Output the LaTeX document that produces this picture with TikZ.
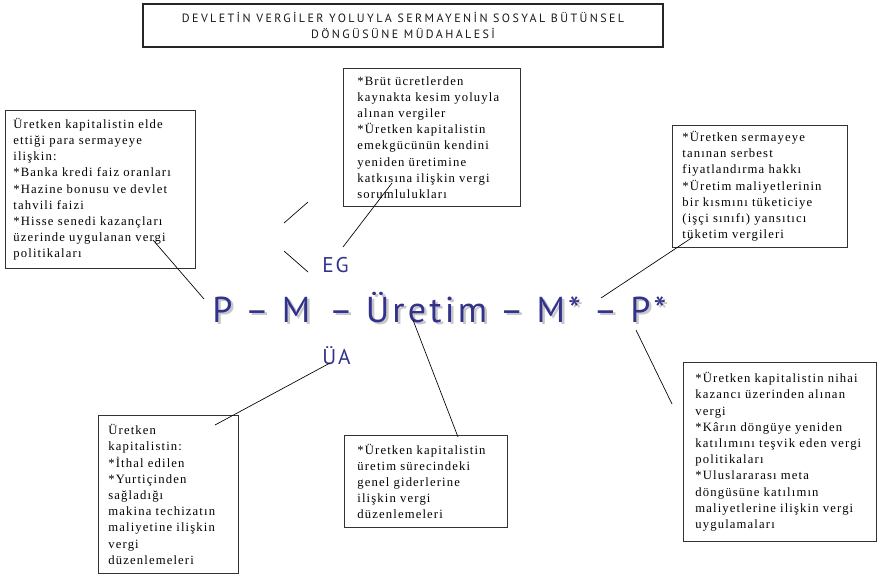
\documentclass[tikz,border=0pt]{standalone}
\usepackage{fontspec}
\newfontfamily\notefont{Liberation Serif}[LetterSpace=9]
\newfontfamily\headfont{PT Sans}[LetterSpace=20]
\newfontfamily\termfont{PT Sans}[LetterSpace=9]
\definecolor{termblue}{RGB}{50,50,140}

\begin{document}
\begin{tikzpicture}[x=0.75pt,y=-0.75pt,
    notebox/.style={draw=black!80, line width=0.6pt, anchor=north west, align=left,
      inner ysep=2pt, font=\notefont\fontsize{9.5}{12.15}\selectfont},
    link/.style={line width=0.5pt},
    bigterm/.style={anchor=base west, inner sep=0pt, font=\termfont\fontsize{27}{30}\selectfont},
    subterm/.style={anchor=base west, inner sep=0pt, text=termblue, font=\termfont\fontsize{16}{18}\selectfont}]
    \useasboundingbox (0,0) rectangle (877,575);

    \node[draw=black!85, line width=0.9pt, minimum width=390pt, minimum height=32.25pt,
      align=center, text=black!90, font=\headfont\fontsize{9}{12}\selectfont] (title) at (403,25.5)
      {DEVLETİN VERGİLER YOLUYLA SERMAYENİN SOSYAL BÜTÜNSEL\\DÖNGÜSÜNE MÜDAHALESİ};

    % the circuit
    \node[bigterm, text=black!22] at (214.5,324.5) {P – M \,– Üretim – M* – P*};
    \node[bigterm, text=termblue] (circuit) at (212,322) {P – M \,– Üretim – M* – P*};
    \node[subterm] (eg) at (322,272) {EG};
    \node[subterm] (ua) at (322,364) {ÜA};

    % notes
    \node[notebox, inner xsep=6pt, text width=130.5pt, minimum height=118.5pt] (capital) at (5,110)
      {Üretken kapitalistin elde\\ettiği para sermayeye\\ilişkin:\\{}*Banka kredi faiz oranları\\{}*Hazine bonusu ve devlet\\tahvili faizi\\{}*Hisse senedi kazançları\\üzerinde uygulanan vergi\\politikaları};
    \node[notebox, inner xsep=10.5pt, text width=111.75pt, minimum height=103.5pt] (wages) at (343,68)
      {*Brüt ücretlerden\\kaynakta kesim yoluyla\\alınan vergiler\\{}*Üretken kapitalistin\\emekgücünün kendini\\yeniden üretimine\\katkısına ilişkin vergi\\sorumlulukları};
    \node[notebox, inner xsep=7.5pt, text width=116.25pt, minimum height=91.5pt] (pricing) at (672,125)
      {*Üretken sermayeye\\tanınan serbest\\fiyatlandırma hakkı\\{}*Üretim maliyetlerinin\\bir kısmını tüketiciye\\(işçi sınıfı) yansıtıcı\\tüketim vergileri};
    \node[notebox, inner xsep=9pt, text width=126.75pt, minimum height=134.25pt] (profit) at (683,362)
      {*Üretken kapitalistin nihai\\kazancı üzerinden alınan\\vergi\\{}*Kârın döngüye yeniden\\katılımını teşvik eden vergi\\politikaları\\{}*Uluslararası meta\\döngüsüne katılımın\\maliyetlerine ilişkin vergi\\uygulamaları};
    \node[notebox, inner xsep=9.75pt, text width=102.75pt, minimum height=69pt] (overhead) at (344,435)
      {*Üretken kapitalistin\\üretim sürecindeki\\genel giderlerine\\ilişkin vergi\\düzenlemeleri};
    \node[notebox, inner xsep=7.5pt, text width=90pt, minimum height=118.5pt] (machinery) at (98,415)
      {Üretken\\kapitalistin:\\{}*İthal edilen\\{}*Yurtiçinden\\sağladığı\\makina techizatın\\maliyetine ilişkin\\vergi\\düzenlemeleri};

    % connector ends
    \coordinate (capital-in) at (153,240);   \coordinate (capital-out) at (204,299);
    \coordinate (wages-in) at (392,183);     \coordinate (wages-out) at (343,247);
    \coordinate (pricing-in) at (693,237);   \coordinate (pricing-out) at (601,298);
    \coordinate (profit-in) at (672,404);    \coordinate (profit-out) at (636,330);
    \coordinate (overhead-in) at (458,437);  \coordinate (overhead-out) at (413,320);
    \coordinate (machinery-in) at (215,425); \coordinate (machinery-out) at (330,363);
    \coordinate (fork-a) at (284,223); \coordinate (fork-b) at (308,202);
    \coordinate (fork-c) at (284,251); \coordinate (fork-d) at (308,272);

    \draw[link] (capital-in) -- (capital-out);
    \draw[link] (wages-in) -- (wages-out);
    \draw[link] (pricing-in) -- (pricing-out);
    \draw[link] (profit-in) -- (profit-out);
    \draw[link] (overhead-in) -- (overhead-out);
    \draw[link] (machinery-in) -- (machinery-out);
    \draw[link] (fork-a) -- (fork-b);
    \draw[link] (fork-c) -- (fork-d);
\end{tikzpicture}
\end{document}
